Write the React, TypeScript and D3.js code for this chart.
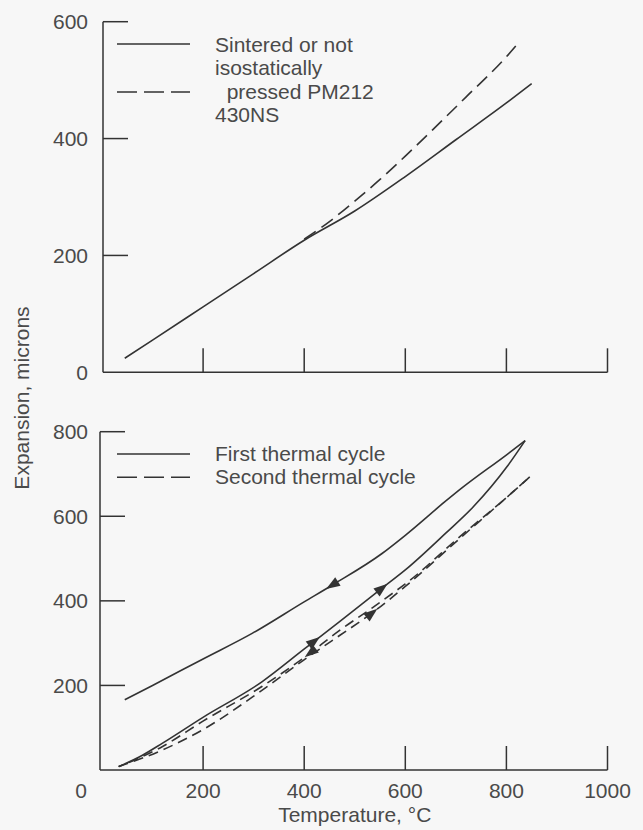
import React from 'react';
import * as d3 from 'd3';

// top panel: sintered vs isostatically pressed
const topSolidT = [45, 100, 200, 300, 400, 500, 600, 700, 800, 850];
const topSolidE = [24, 55, 112, 169, 226, 276, 335, 398, 461, 494];
const topDashT = [400, 450, 500, 550, 600, 654, 720, 800, 822];
const topDashE = [228, 258, 293, 330, 370, 415, 471, 540, 562];

// bottom panel: thermal cycles (heating / cooling branches)
const firstHeatT = [33, 80, 119, 199, 317, 399, 470, 554, 600, 680, 735, 801, 837];
const firstHeatE = [8, 35, 63, 124, 209, 285, 351, 430, 473, 560, 623, 717, 779];
const firstCoolT = [45, 100, 199, 297, 399, 455, 554, 600, 679, 712, 801, 837];
const firstCoolE = [166, 200, 262, 323, 397, 437, 512, 555, 635, 667, 746, 779];
const secondHeatT = [33, 119, 199, 317, 399, 470, 534, 600, 712, 801, 847];
const secondHeatE = [8, 47, 95, 189, 260, 318, 371, 434, 552, 645, 694];
const secondCoolT = [33, 119, 199, 317, 399, 470, 534, 575, 600, 712, 801, 847];
const secondCoolE = [8, 55, 115, 198, 265, 330, 383, 418, 440, 556, 645, 694];

const xTicks = [200, 400, 600, 800, 1000];
const xLabels = [0, 200, 400, 600, 800, 1000];
const topYTicks = [0, 200, 400, 600];
const bottomYTicks = [200, 400, 600, 800];

const topLegend = ['Sintered or not', 'isostatically', '  pressed PM212', '430NS'];
const bottomLegend = ['First thermal cycle', 'Second thermal cycle'];

const INK = '#333';
const TEXT = '#4a4a4a';
const FONT = '"Liberation Sans", Arial, Helvetica, sans-serif';

const x = d3.scaleLinear().domain([0, 1000]).range([102, 607.5]);
const yTop = d3.scaleLinear().domain([0, 600]).range([372.3, 21.7]);
const yBot = d3.scaleLinear().domain([0, 800]).range([770, 431.7]);

const pathOf = (T, E, y) =>
  d3.line().x((d) => x(d[0])).y((d) => y(d[1])).curve(d3.curveMonotoneX)(T.map((t, i) => [t, E[i]]));

// filled arrowhead sitting on a branch at temperature t
const Arrow = ({ T, E, y, t, reverse }) => {
  const f = d3.scaleLinear().domain(T).range(E);
  const px = x(t), py = y(f(t));
  const qx = x(t + 5), qy = y(f(t + 5));
  let a = Math.atan2(qy - py, qx - px);
  if (reverse) a += Math.PI;
  const len = 14, hw = 5;
  const tip = [px + Math.cos(a) * len / 2, py + Math.sin(a) * len / 2];
  const bx = px - Math.cos(a) * len / 2, by = py - Math.sin(a) * len / 2;
  const l = [bx + Math.cos(a + Math.PI / 2) * hw, by + Math.sin(a + Math.PI / 2) * hw];
  const r = [bx - Math.cos(a + Math.PI / 2) * hw, by - Math.sin(a + Math.PI / 2) * hw];
  return <polygon points={`${tip} ${l} ${r}`} fill={INK} />;
};

const Frame = ({ y, axisX, yTicks, yMax }) => (
  <g stroke={INK} strokeWidth={1.5} fill="none">
    <line x1={axisX} x2={axisX} y1={y(yMax)} y2={y(0)} />
    <line x1={axisX} x2={x(1000)} y1={y(0)} y2={y(0)} />
    {yTicks.filter((v) => v > 0).map((v) => (
      <line key={v} x1={axisX} x2={axisX + 25} y1={y(v)} y2={y(v)} />
    ))}
    {xTicks.map((v) => (
      <line key={v} x1={x(v)} x2={x(v)} y1={y(0)} y2={y(0) - 24} />
    ))}
  </g>
);

export default function App() {
  return (
    <svg width={643} height={830} style={{ position: 'absolute', left: 0, top: 0 }} fontFamily={FONT}>
      <rect width={643} height={830} fill="#f7f7f7" />

      {/* top panel */}
      <Frame y={yTop} axisX={103} yTicks={topYTicks} yMax={600} />
      {topYTicks.map((v) => (
        <text key={v} x={88} y={yTop(v)} dy="0.35em" textAnchor="end" fontSize={21} fill={TEXT}>{v}</text>
      ))}
      <path d={pathOf(topSolidT, topSolidE, yTop)} fill="none" stroke={INK} strokeWidth={1.6} />
      <path d={pathOf(topDashT, topDashE, yTop)} fill="none" stroke={INK} strokeWidth={1.6} strokeDasharray="14 7" />
      <line x1={117} x2={190} y1={44} y2={44} stroke={INK} strokeWidth={1.6} />
      <line x1={117} x2={190} y1={92} y2={92} stroke={INK} strokeWidth={1.6} strokeDasharray="20 7" />
      {topLegend.map((s, i) => (
        <text key={i} x={215} y={51.7 + i * 23.4} fontSize={21} fill={TEXT} style={{ whiteSpace: 'pre' }}>{s}</text>
      ))}

      {/* bottom panel */}
      <Frame y={yBot} axisX={100} yTicks={bottomYTicks} yMax={800} />
      {bottomYTicks.map((v) => (
        <text key={v} x={88} y={yBot(v)} dy="0.35em" textAnchor="end" fontSize={21} fill={TEXT}>{v}</text>
      ))}
      {xLabels.map((v) => (
        <text key={v} x={v === 0 ? x(0) - 21 : x(v)} y={791} dy="0.35em" textAnchor="middle" fontSize={21} fill={TEXT}>{v}</text>
      ))}
      <text x={(x(0) + x(1000)) / 2} y={815} dy="0.35em" textAnchor="middle" fontSize={21} fill={TEXT}>Temperature, °C</text>
      <text transform="translate(22,398) rotate(-90)" dy="0.35em" textAnchor="middle" fontSize={21} fill={TEXT}>Expansion, microns</text>

      <path d={pathOf(secondHeatT, secondHeatE, yBot)} fill="none" stroke={INK} strokeWidth={1.6} strokeDasharray="10 6" />
      <path d={pathOf(secondCoolT, secondCoolE, yBot)} fill="none" stroke={INK} strokeWidth={1.6} strokeDasharray="10 6" strokeDashoffset={5} />
      <path d={pathOf(firstHeatT, firstHeatE, yBot)} fill="none" stroke={INK} strokeWidth={1.6} />
      <path d={pathOf(firstCoolT, firstCoolE, yBot)} fill="none" stroke={INK} strokeWidth={1.6} />

      <Arrow T={firstCoolT} E={firstCoolE} y={yBot} t={455} reverse />
      <Arrow T={firstHeatT} E={firstHeatE} y={yBot} t={554} />
      <Arrow T={firstHeatT} E={firstHeatE} y={yBot} t={420} />
      <Arrow T={secondCoolT} E={secondCoolE} y={yBot} t={412} reverse />
      <Arrow T={secondHeatT} E={secondHeatE} y={yBot} t={534} />

      <line x1={117} x2={190} y1={454} y2={454} stroke={INK} strokeWidth={1.6} />
      <line x1={117} x2={190} y1={477.3} y2={477.3} stroke={INK} strokeWidth={1.6} strokeDasharray="20 7" />
      {bottomLegend.map((s, i) => (
        <text key={i} x={215} y={460.7 + i * 23.4} fontSize={21} fill={TEXT}>{s}</text>
      ))}
    </svg>
  );
}
